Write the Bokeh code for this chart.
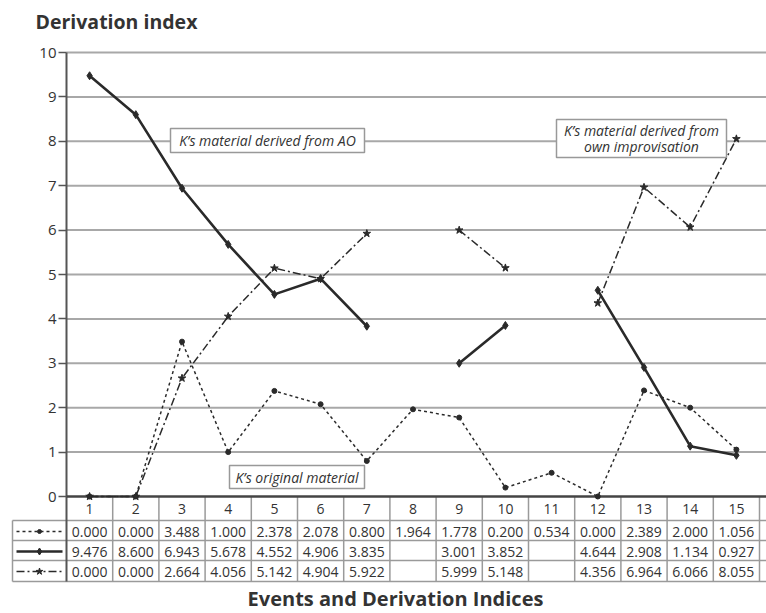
from bokeh.plotting import figure
from bokeh.models import Range1d, FixedTicker
from bokeh.core.properties import value
from bokeh.embed import file_html
from bokeh.resources import INLINE
import math

# ---------------- data ----------------
events = list(range(1, 16))
event_labels = [str(e) for e in events]
original = [0.000, 0.000, 3.488, 1.000, 2.378, 2.078, 0.800, 1.964, 1.778, 0.200,
            0.534, 0.000, 2.389, 2.000, 1.056]
from_ao = [9.476, 8.600, 6.943, 5.678, 4.552, 4.906, 3.835, None, 3.001, 3.852,
           None, 4.644, 2.908, 1.134, 0.927]
own_impro = [0.000, 0.000, 2.664, 4.056, 5.142, 4.904, 5.922, None, 5.999, 5.148,
             None, 4.356, 6.964, 6.066, 8.055]
y_ticks = list(range(0, 11))

series = [
    dict(vals=original, dash="3 3", width=1.5, marker="circle", msize=5),
    dict(vals=from_ao, dash="solid", width=2.6, marker="diamond", msize=8),
    dict(vals=own_impro, dash="8 3 2 3", width=1.5, marker="star", msize=8),
]

FONT = value("Open Sans")
INK = "#2a2a2a"
GRID = "#a8a8a8"
TBL = "#9a9a9a"

W, H = 766, 613
AX_X = 66       # pixel x of the y axis
AX_Y0 = 496     # pixel y of value 0
XPX = 46.2      # px per category
YPX = 44.4      # px per unit
X_START = 0.5 - AX_X / XPX
X_END = 0.5 + (W - AX_X) / XPX
Y_END = (AX_Y0) / YPX
Y_START = -(H - AX_Y0) / YPX


def X(px):
    return (px - AX_X) / XPX + 0.5


def Y(py):
    return (AX_Y0 - py) / YPX


p = figure(width=W, height=H, output_backend="svg", toolbar_location=None,
           x_range=Range1d(X_START, X_END), y_range=Range1d(Y_START, Y_END),
           min_border=0, min_border_left=0, min_border_right=0,
           min_border_top=0, min_border_bottom=0)
p.outline_line_color = None
p.xgrid.visible = False
p.ygrid.visible = False

# y axis at x = 0.5
ya = p.yaxis[0]
ya.fixed_location = 0.5
ya.ticker = FixedTicker(ticks=y_ticks)
ya.axis_line_color = None
ya.major_tick_out = 8
ya.major_tick_in = 0
ya.minor_tick_out = 0
ya.minor_tick_in = 0
ya.major_tick_line_color = "#555555"
ya.major_tick_line_width = 1.5
ya.major_label_text_font = "Open Sans"
ya.major_label_text_font_size = "15px"
ya.major_label_text_color = "#333333"
ya.major_label_standoff = 2

# x axis at y = 0 (table header)
xa = p.xaxis[0]
xa.fixed_location = 0
xa.ticker = FixedTicker(ticks=events)
xa.major_label_overrides = {e: l for e, l in zip(events, event_labels)}
xa.axis_line_color = None
xa.major_tick_out = 0
xa.major_tick_in = 0
xa.minor_tick_out = 0
xa.minor_tick_in = 0
xa.major_label_text_font = "Open Sans"
xa.major_label_text_font_size = "14px"
xa.major_label_text_color = "#333333"
xa.major_label_standoff = 7

# horizontal grid lines
gy = [t for t in y_ticks if t > 0]
p.segment(x0=[0.5] * len(gy), x1=[X_END + 1] * len(gy), y0=gy, y1=gy,
          line_color=GRID, line_width=2)

# table geometry (data units)
row_lines = [Y(520), Y(540), Y(560), Y(581)]
row_text_y = [Y(531), Y(551), Y(571)]
key_left = X(12)

# table lines
p.segment(x0=[key_left] * 4, x1=[X_END + 1] * 4, y0=row_lines, y1=row_lines,
          line_color=TBL, line_width=1.5)
vx = [e + 0.5 for e in events]
p.segment(x0=vx, x1=vx, y0=[0] * len(vx), y1=[row_lines[-1]] * len(vx),
          line_color=TBL, line_width=1.5)
p.segment(x0=[key_left], x1=[key_left], y0=[row_lines[0]], y1=[row_lines[-1]],
          line_color=TBL, line_width=1.5)

# axis lines
p.segment(x0=[0.5], x1=[0.5], y0=[10], y1=[row_lines[-1]], line_color="#555555", line_width=2)
p.segment(x0=[0.5], x1=[X_END + 1], y0=[0], y1=[0], line_color="#444444", line_width=2.5)

# series lines, markers and table rows
for s, ty in zip(series, row_text_y):
    ys = [math.nan if v is None else v for v in s["vals"]]
    p.line(events, ys, line_color=INK, line_width=s["width"], line_dash=s["dash"])
    px = [e for e, v in zip(events, s["vals"]) if v is not None]
    py = [v for v in s["vals"] if v is not None]
    p.scatter(px, py, marker=s["marker"], size=s["msize"], fill_color=INK, line_color=INK)
    # key sample
    kx0, kx1 = X(16), X(62)
    p.line([kx0, kx1], [ty, ty], line_color=INK, line_width=s["width"] * 0.9, line_dash=s["dash"])
    p.scatter([(kx0 + kx1) / 2], [ty], marker=s["marker"], size=s["msize"] - 1,
              fill_color=INK, line_color=INK)
    # values
    txt = ["" if v is None else f"{v:.3f}" for v in s["vals"]]
    p.text(x=events, y=[ty] * len(events), text=txt, text_font=FONT,
           text_font_size=value("14px"), text_color="#333333",
           text_align="center", text_baseline="middle")


# annotation boxes
def box(x0, x1, y0, y1, lines, ys, xc):
    p.quad(left=[x0], right=[x1], bottom=[y1], top=[y0], fill_color="white",
           line_color="#999999", line_width=1.5)
    p.text(x=[xc] * len(lines), y=ys, text=lines, text_font=FONT,
           text_font_size=value("14px"), text_font_style="italic",
           text_color="#333333", text_align="center", text_baseline="middle")


box(X(170), X(364), Y(128), Y(152), ["K\u2019s material derived from AO"], [Y(140)], X(267))
box(X(556), X(726), Y(119), Y(157), ["K\u2019s material derived from", "own improvisation"],
    [Y(130), Y(146)], X(641))
box(X(229), X(364), Y(465), Y(488), ["K\u2019s original material"], [Y(476.5)], X(296.5))

# titles
p.text(x=[X(35)], y=[Y(21)], text=["Derivation index"], text_font=FONT,
       text_font_size=value("19.5px"), text_font_style="bold", text_color="#333333",
       text_align="left", text_baseline="middle")
p.text(x=[X(395)], y=[Y(598)], text=["Events and Derivation Indices"], text_font=FONT,
       text_font_size=value("20px"), text_font_style="bold", text_color="#333333",
       text_align="center", text_baseline="middle")

open("out.html", "w").write(file_html(p, INLINE))
